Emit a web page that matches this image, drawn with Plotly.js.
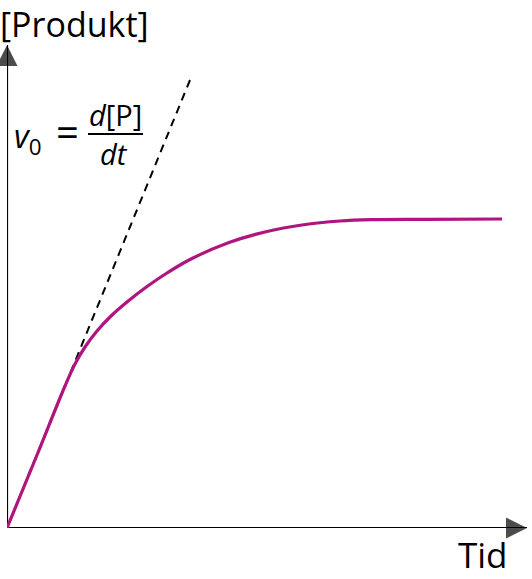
<!DOCTYPE html>
<html>
<head>
<meta charset="utf-8">
<script src="https://cdn.plot.ly/plotly-3.0.1.min.js"></script>
<style>html,body{margin:0;padding:0;background:#fff;}#chart{width:532px;height:579px;}</style>
</head>
<body>
<div id="chart"></div>
<script>
// Time and product values (arbitrary units)
const tid = [0, 30, 58, 68, 78, 90, 104, 120, 140, 160, 183, 222, 260, 295, 333, 365, 420, 495];
const produkt = [0, 73, 142, 164, 181, 197, 212, 226, 241.5, 255, 268.5, 285.5, 296.5, 303, 307, 308.3, 308.6, 309];
const tangentTid = [0, 183];
const tangentProdukt = [0, 448];
const xAxisTid = [0, 520];
const xAxisProdukt = [0, 0];
const yAxisTid = [0, 0];
const yAxisProdukt = [0, 483];
const labels = {y: '[Produkt]', x: 'Tid'};

const font = 'Open Sans, Noto Sans, sans-serif';
const px = v => (v - 7) / 520;
const py = v => (528 - v) / 488;

const traces = [
  {x: xAxisTid, y: xAxisProdukt, mode: 'lines+markers', line: {color: '#000', width: 2.2},
   marker: {symbol: ['circle', 'arrow-right'], size: [0, 21], color: '#000', line: {width: 0}}, cliponaxis: false, hoverinfo: 'skip'},
  {x: yAxisTid, y: yAxisProdukt, mode: 'lines+markers', line: {color: '#000', width: 2.2},
   marker: {symbol: ['circle', 'arrow-up'], size: [0, 21], color: '#000', line: {width: 0}}, cliponaxis: false, hoverinfo: 'skip'},
  {x: tangentTid, y: tangentProdukt, mode: 'lines', line: {color: '#000', width: 2, dash: '8px,6px'}, cliponaxis: false, hoverinfo: 'skip'},
  {x: tid, y: produkt, mode: 'lines', line: {color: '#B0147F', width: 3.2, shape: 'spline', smoothing: 1}, cliponaxis: false, hoverinfo: 'skip'}
];

const layout = {
  width: 532, height: 579,
  margin: {l: 7, r: 5, t: 40, b: 51},
  paper_bgcolor: '#fff', plot_bgcolor: '#fff',
  showlegend: false,
  xaxis: {range: [0, 520], visible: false, fixedrange: true},
  yaxis: {range: [0, 488], visible: false, fixedrange: true},
  annotations: [
    {x: px(-1), y: py(0), xref: 'paper', yref: 'paper', xanchor: 'left', yanchor: 'top', text: labels.y, showarrow: false, borderpad: 0, font: {family: font, size: 34, color: '#000'}},
    {x: px(509), y: py(579), xref: 'paper', yref: 'paper', xanchor: 'right', yanchor: 'bottom', text: labels.x, showarrow: false, borderpad: 0, font: {family: font, size: 35, color: '#000'}},
    {x: px(12), y: py(138), xref: 'paper', yref: 'paper', xanchor: 'left', yanchor: 'middle', text: '<i>v</i><sub>0</sub>', showarrow: false, font: {family: font, size: 32, color: '#000'}},
    {x: px(67), y: py(131), xref: 'paper', yref: 'paper', xanchor: 'center', yanchor: 'middle', text: '=', showarrow: false, font: {family: font, size: 40, color: '#000'}},
    {x: px(115), y: py(115), xref: 'paper', yref: 'paper', xanchor: 'center', yanchor: 'middle', text: '<i>d</i>[P]', showarrow: false, font: {family: font, size: 29, color: '#000'}},
    {x: px(114), y: py(153), xref: 'paper', yref: 'paper', xanchor: 'center', yanchor: 'middle', text: '<i>dt</i>', showarrow: false, font: {family: font, size: 29, color: '#000'}}
  ],
  shapes: [
    {type: 'line', xref: 'paper', yref: 'paper', x0: px(88), x1: px(143), y0: py(134), y1: py(134), line: {color: '#000', width: 2}}
  ]
};

Plotly.newPlot('chart', traces, layout, {displayModeBar: false, staticPlot: true});
</script>
</body>
</html>
